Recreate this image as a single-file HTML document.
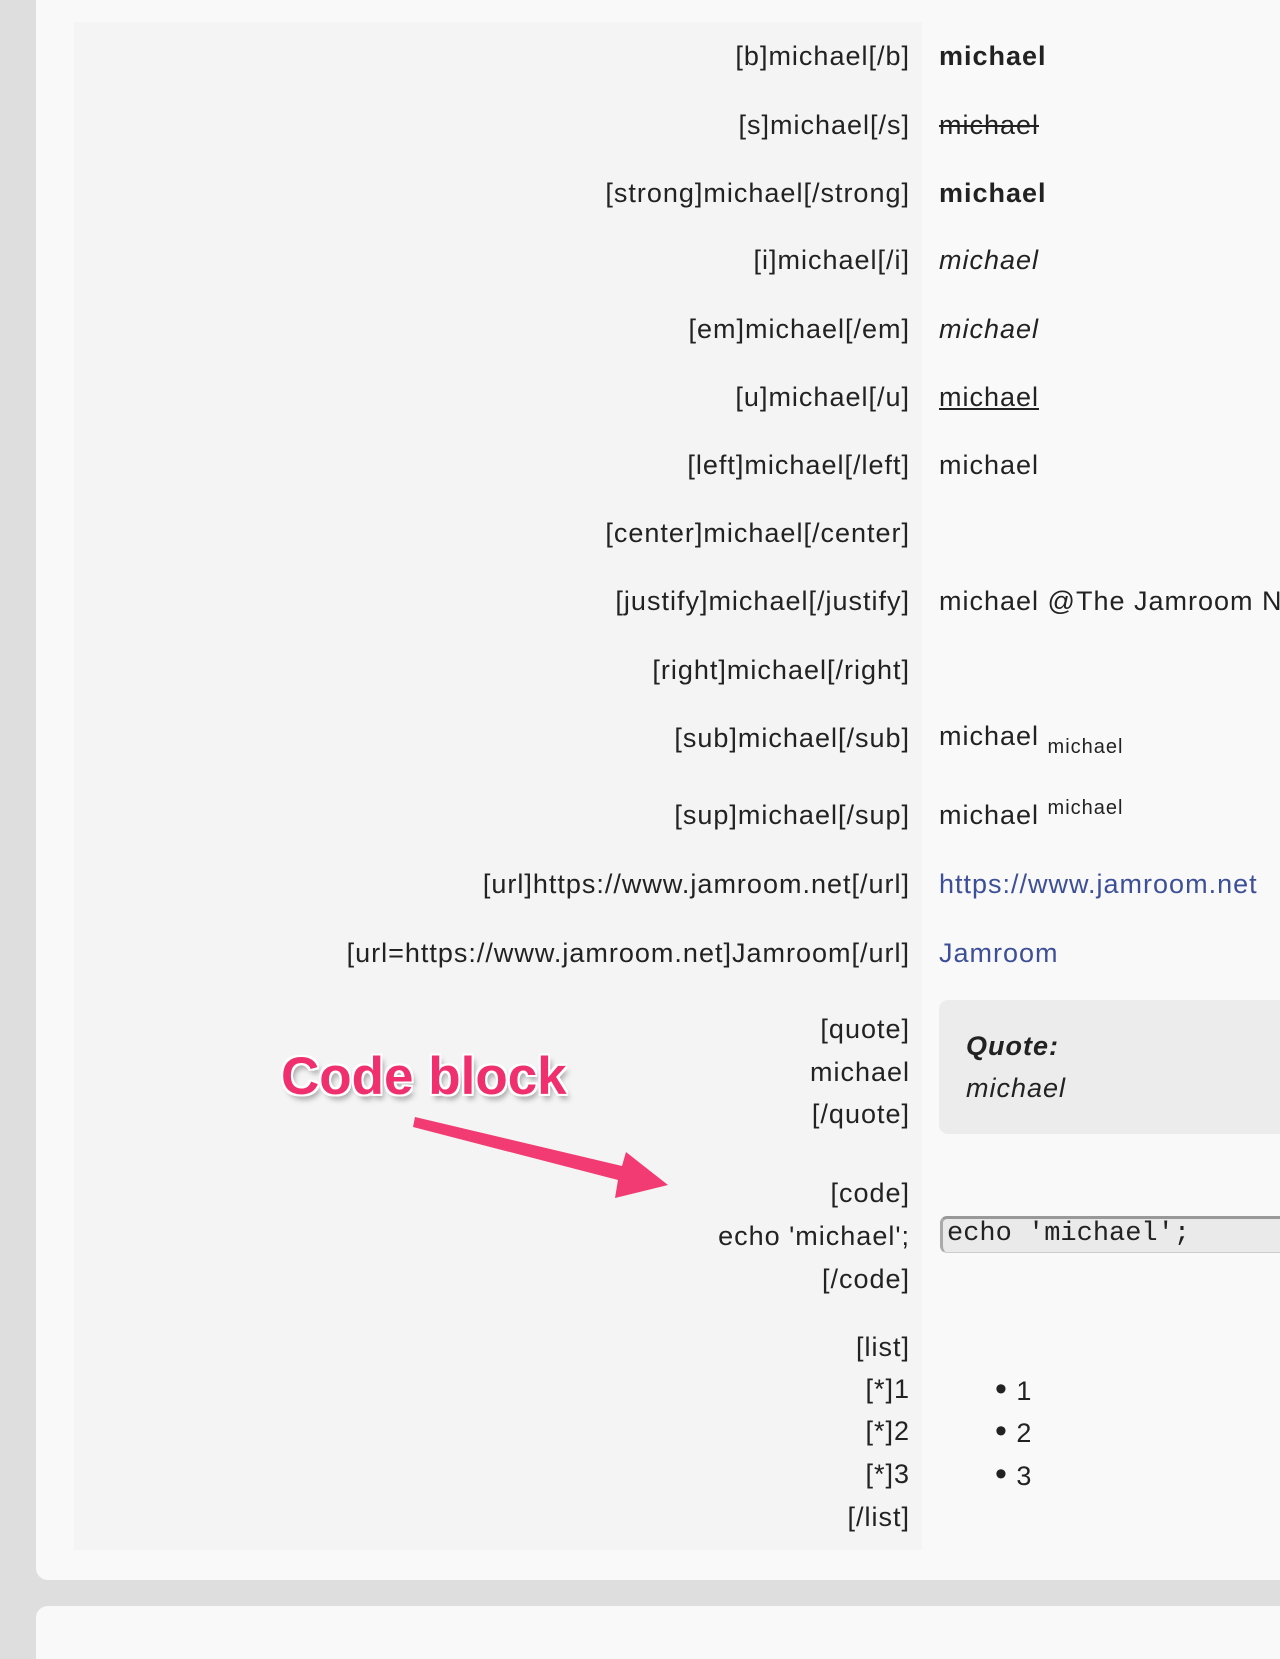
<!DOCTYPE html>
<html><head><meta charset="utf-8"><style>
html,body{margin:0;padding:0}
body{width:1280px;height:1659px;background:#dedede;position:relative;overflow:hidden;font-family:"Liberation Sans",sans-serif;color:#222}
.card{position:absolute;left:36px;width:1244px;background:#f9f9f9;border-radius:12px 0 0 12px}
.panel{position:absolute;left:74px;top:22px;width:848px;height:1528px;background:#f4f4f4}
.l{position:absolute;right:370px;font-size:27px;letter-spacing:1px;line-height:30px;white-space:nowrap;text-align:right}
.v{position:absolute;left:939px;font-size:27px;letter-spacing:1px;line-height:30px;white-space:nowrap;max-width:341px;overflow:hidden}
a{color:#3d4f96;text-decoration:none}
</style></head><body>
<div class="card" style="top:0;height:1580px;border-radius:0 0 0 12px"></div>
<div class="card" style="top:1606px;height:53px;border-radius:12px 0 0 0"></div>
<div class="panel"></div>

<div class="l" style="top:41px">[b]michael[/b]</div><div class="v" style="top:41px;font-weight:bold">michael</div>
<div class="l" style="top:110px">[s]michael[/s]</div><div class="v" style="top:110px;text-decoration:line-through">michael</div>
<div class="l" style="top:178px">[strong]michael[/strong]</div><div class="v" style="top:178px;font-weight:bold">michael</div>
<div class="l" style="top:245px">[i]michael[/i]</div><div class="v" style="top:245px;font-style:italic">michael</div>
<div class="l" style="top:314px">[em]michael[/em]</div><div class="v" style="top:314px;font-style:italic">michael</div>
<div class="l" style="top:382px">[u]michael[/u]</div><div class="v" style="top:382px;text-decoration:underline">michael</div>
<div class="l" style="top:450px">[left]michael[/left]</div><div class="v" style="top:450px">michael</div>
<div class="l" style="top:518px">[center]michael[/center]</div>
<div class="l" style="top:586px">[justify]michael[/justify]</div><div class="v" style="top:586px">michael @The Jamroom Network</div>
<div class="l" style="top:655px">[right]michael[/right]</div>
<div class="l" style="top:723px">[sub]michael[/sub]</div><div class="v" style="top:721px;height:40px">michael <span style="font-size:20px;position:relative;top:8px">michael</span></div>
<div class="l" style="top:800px">[sup]michael[/sup]</div><div class="v" style="top:790px;padding-top:10px">michael <span style="font-size:20px;position:relative;top:-10px">michael</span></div>
<div class="l" style="top:869px">[url]https://www.jamroom.net[/url]</div><div class="v" style="top:869px"><a>https://www.jamroom.net</a></div>
<div class="l" style="top:938px">[url=https://www.jamroom.net]Jamroom[/url]</div><div class="v" style="top:938px"><a>Jamroom</a></div>

<div class="l" style="top:1014px">[quote]</div>
<div class="l" style="top:1057px">michael</div>
<div class="l" style="top:1099px">[/quote]</div>
<div style="position:absolute;left:939px;top:1000px;width:341px;height:134px;background:#ececec;border-radius:9px 0 0 9px"></div>
<div class="v" style="left:966px;top:1031px;font-style:italic;font-weight:bold">Quote:</div>
<div class="v" style="left:966px;top:1073px;font-style:italic">michael</div>

<div class="l" style="top:1178px">[code]</div>
<div class="l" style="top:1221px">echo 'michael';</div>
<div class="l" style="top:1264px">[/code]</div>
<div style="position:absolute;left:940px;top:1216px;width:340px;height:37px;background:#eaeaea;border-top:3px solid #999;border-left:3px solid #aaa;border-bottom:1px solid #ccc;border-radius:7px 0 0 7px;box-sizing:border-box;font-family:'Liberation Mono',monospace;font-size:27px;line-height:30px;padding-left:4px;color:#222">echo 'michael';</div>

<div class="l" style="top:1332px">[list]</div>
<div class="l" style="top:1374px">[*]1</div>
<div class="l" style="top:1416px">[*]2</div>
<div class="l" style="top:1459px">[*]3</div>
<div class="l" style="top:1502px">[/list]</div>
<div class="v" style="left:995px;top:1374px"><span style="font-size:34px">•</span> 1</div>
<div class="v" style="left:995px;top:1416px"><span style="font-size:34px">•</span> 2</div>
<div class="v" style="left:995px;top:1459px"><span style="font-size:34px">•</span> 3</div>

<div style="position:absolute;left:281px;top:1046px;font-size:53px;font-weight:bold;color:#f0306e;white-space:nowrap;text-shadow:-2px -2px 0 #fff,2px -2px 0 #fff,-2px 2px 0 #fff,2px 2px 0 #fff,0 2px 0 #fff,2px 0 0 #fff,-2px 0 0 #fff,0 -2px 0 #fff,3px 5px 6px rgba(0,0,0,.35)">Code block</div>
<svg style="position:absolute;left:0;top:0" width="1280" height="1659">
<path d="M415 1117 L622 1166 L626 1152 L668 1185 L615 1198 L618 1180 L413 1127 Z" fill="#f23b72"/>
</svg>
</body></html>
